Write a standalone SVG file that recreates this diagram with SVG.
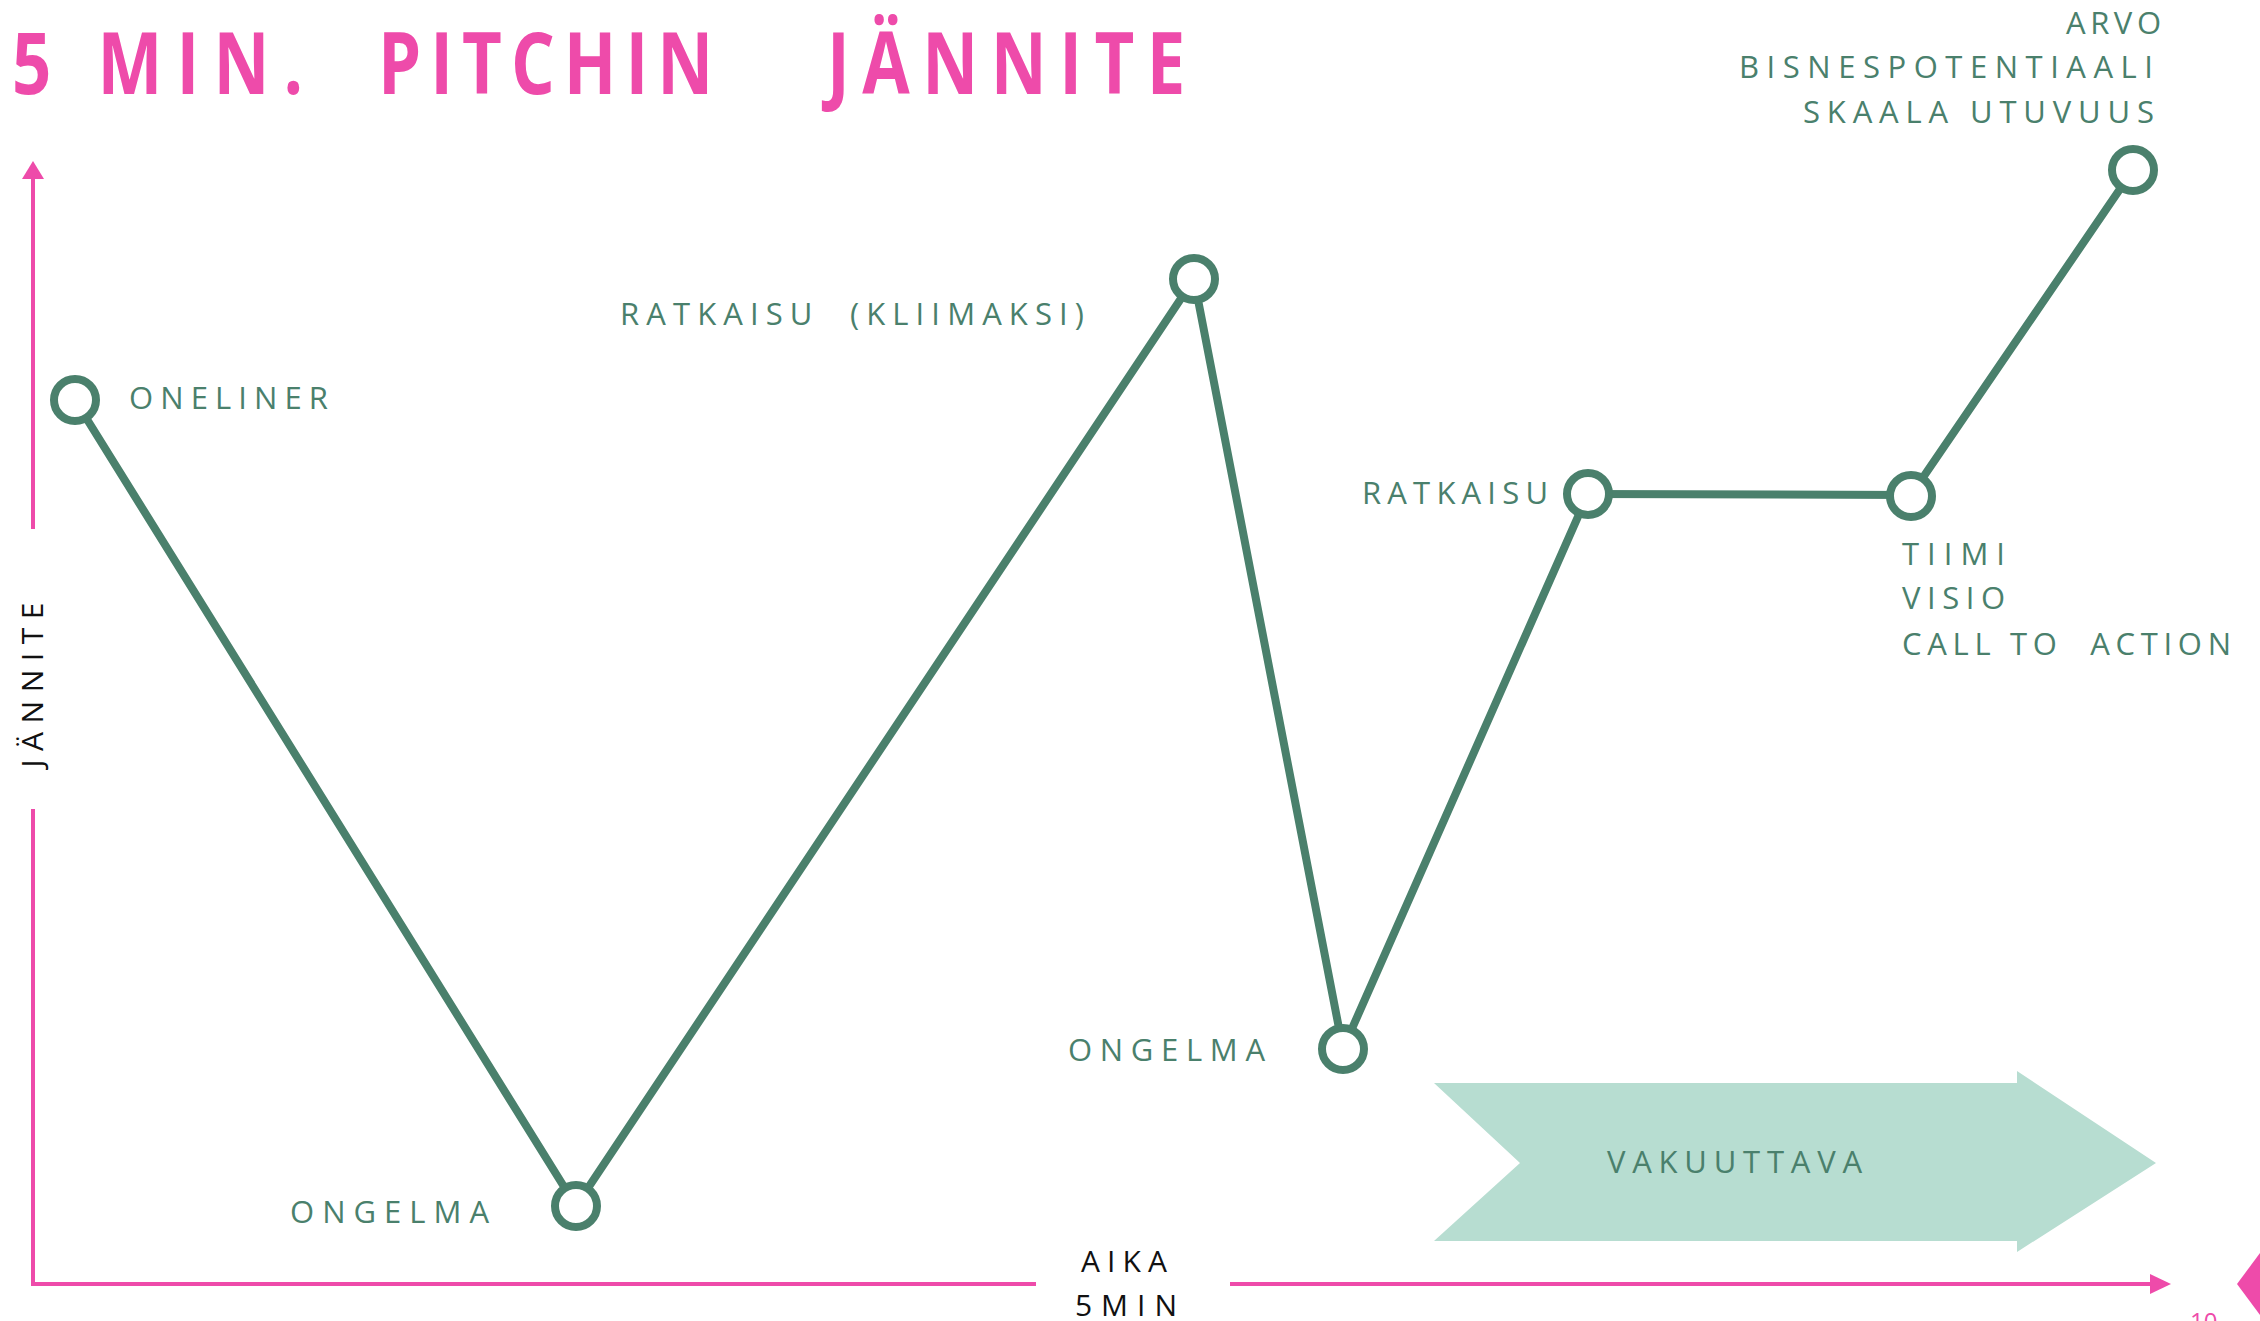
<svg xmlns="http://www.w3.org/2000/svg" width="2260" height="1321" viewBox="0 0 2260 1321">
<style>
.title{font-family:"Open Sans","Liberation Sans",sans-serif;font-weight:bold;font-size:86px;fill:#EE4BAA}
.lbl{font-family:"Open Sans","Liberation Sans",sans-serif;font-size:31px;fill:#4A806C;white-space:pre}
.ax{font-family:"Open Sans","Liberation Sans",sans-serif;font-size:30px;fill:#111111}
.axis{stroke:#EE4BAA;stroke-width:4;fill:none}
.edge{stroke:#4A806C;stroke-width:8;fill:none;stroke-linecap:round}
.node{fill:#FFFFFF;stroke:#4A806C;stroke-width:8}
</style>
<rect width="2260" height="1321" fill="#FFFFFF"/>

<g id="title">
<text class="title" transform="translate(12,94) scale(0.8,1)" textLength="364" lengthAdjust="spacing">5 MIN.</text>
<text class="title" transform="translate(378,94) scale(0.8,1)" textLength="419" lengthAdjust="spacing">PITCHIN</text>
<text class="title" transform="translate(827,94) scale(0.8,1)" textLength="448" lengthAdjust="spacing">JÄNNITE</text>
</g>

<g id="axes">
<line class="axis" x1="33" y1="529" x2="33" y2="176"/>
<polygon points="33,161 22,179 44,179" fill="#EE4BAA"/>
<polyline class="axis" points="33,809 33,1284 1036,1284"/>
<line class="axis" x1="1230" y1="1284" x2="2152" y2="1284"/>
<polygon points="2171,1284 2150,1274 2150,1294" fill="#EE4BAA"/>
<text class="ax" transform="translate(43,685) rotate(-90)" text-anchor="middle" textLength="165" lengthAdjust="spacing">JÄNNITE</text>
<text class="ax" x="1081" y="1272" textLength="86" lengthAdjust="spacing">AIKA</text>
<text class="ax" x="1075" y="1316" textLength="102" lengthAdjust="spacing">5MIN</text>
</g>

<g id="vakuuttava">
<polygon points="1434,1083 2017,1083 2017,1071 2156,1163 2017,1252 2017,1241 1434,1241 1520,1163" fill="#B7DDD1"/>
<text class="lbl" x="1607" y="1173" textLength="255" lengthAdjust="spacing">VAKUUTTAVA</text>
</g>

<g id="connectors">
<line class="edge" x1="75" y1="400" x2="576" y2="1206"/>
<line class="edge" x1="576" y1="1206" x2="1194" y2="279"/>
<line class="edge" x1="1194" y1="279" x2="1343" y2="1049"/>
<line class="edge" x1="1343" y1="1049" x2="1588" y2="494"/>
<line class="edge" x1="1588" y1="494" x2="1911" y2="495"/>
<line class="edge" x1="1911" y1="495" x2="2133" y2="170"/>
</g>

<g id="node-oneliner">
<circle class="node" cx="75" cy="400" r="21"/>
<text class="lbl" x="129" y="409" textLength="199" lengthAdjust="spacing">ONELINER</text>
</g>
<g id="node-ongelma1">
<circle class="node" cx="576" cy="1206" r="21"/>
<text class="lbl" x="290" y="1223" textLength="199" lengthAdjust="spacing">ONGELMA</text>
</g>
<g id="node-ratkaisu-kliimaksi">
<circle class="node" cx="1194" cy="279" r="21"/>
<text class="lbl" x="620" y="325" textLength="464" lengthAdjust="spacing">RATKAISU  (KLIIMAKSI)</text>
</g>
<g id="node-ongelma2">
<circle class="node" cx="1343" cy="1049" r="21"/>
<text class="lbl" x="1068" y="1061" textLength="197" lengthAdjust="spacing">ONGELMA</text>
</g>
<g id="node-ratkaisu">
<circle class="node" cx="1588" cy="494" r="21"/>
<text class="lbl" x="1362" y="504" textLength="186" lengthAdjust="spacing">RATKAISU</text>
</g>
<g id="node-tiimi">
<circle class="node" cx="1911" cy="496" r="21"/>
<text class="lbl" x="1902" y="565" textLength="103" lengthAdjust="spacing">TIIMI</text>
<text class="lbl" x="1902" y="609" textLength="103" lengthAdjust="spacing">VISIO</text>
<text class="lbl" x="1902" y="655" textLength="329" lengthAdjust="spacing">CALL TO  ACTION</text>
</g>
<g id="node-arvo">
<circle class="node" cx="2133" cy="170" r="21"/>
<text class="lbl" x="2066" y="34" textLength="95" lengthAdjust="spacing">ARVO</text>
<text class="lbl" x="1739" y="78" textLength="414" lengthAdjust="spacing">BISNESPOTENTIAALI</text>
<text class="lbl" x="1803" y="123" textLength="351" lengthAdjust="spacing">SKAALA UTUVUUS</text>
</g>

<g id="page-marker">
<polygon points="2237,1284 2260,1253 2260,1315" fill="#EE4BAA"/>
<text x="2190" y="1330" font-family="'Open Sans','Liberation Sans',sans-serif" font-size="24" fill="#EE4BAA">10</text>
</g>
</svg>
